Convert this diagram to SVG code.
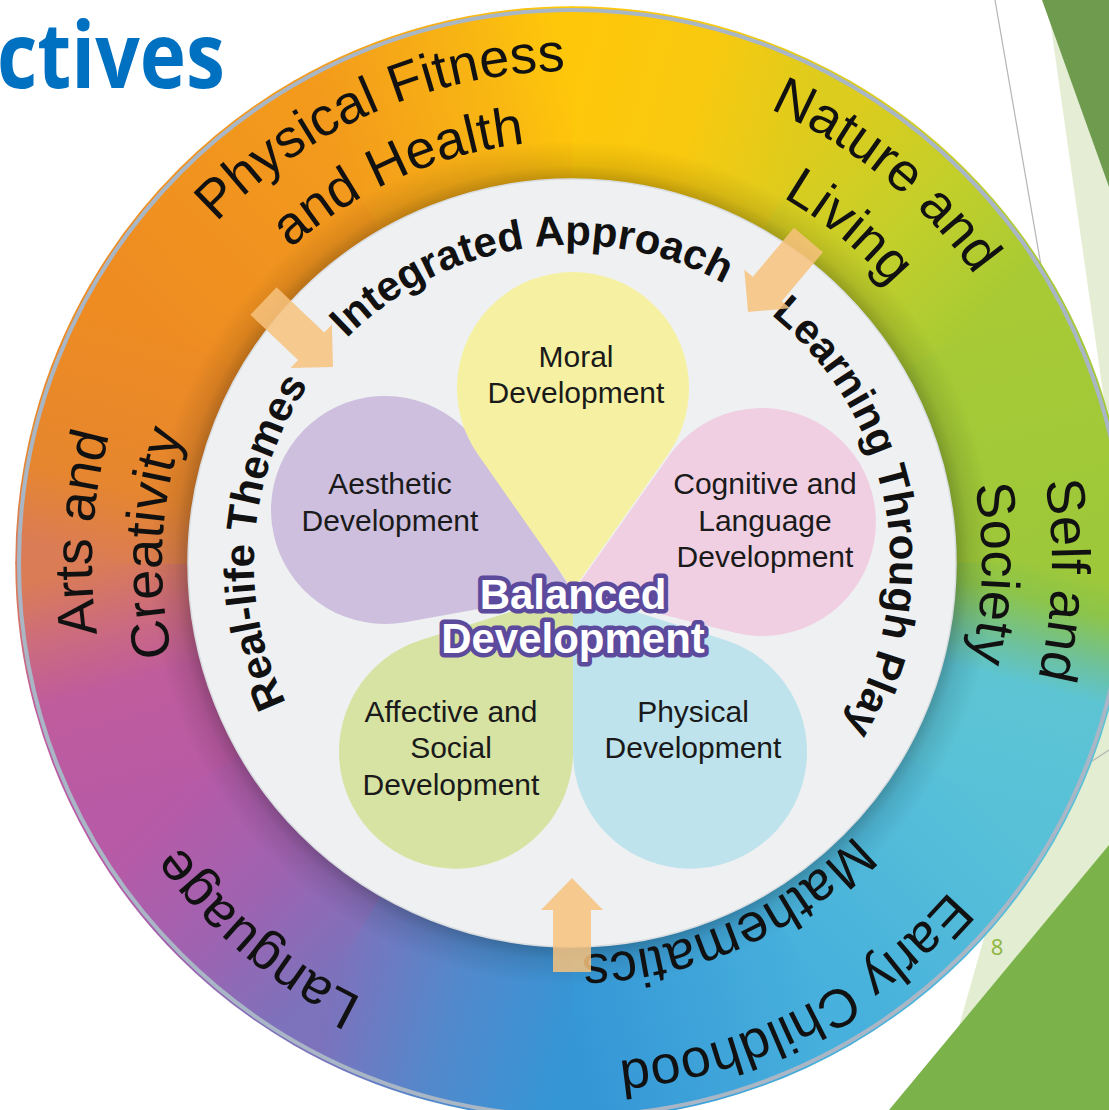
<svg xmlns="http://www.w3.org/2000/svg" width="1109" height="1110" viewBox="0 0 1109 1110">
<style>
.ring{font-family:"Liberation Sans",Arial,sans-serif;font-size:54px;fill:#111}
.band{font-family:"Liberation Sans",Arial,sans-serif;font-size:42px;font-weight:bold;fill:#111}
.petal{font-family:"Liberation Sans",Arial,sans-serif;font-size:30px;fill:#1a1a1a;text-anchor:middle}
.bal{font-family:"Liberation Sans",Arial,sans-serif;font-size:42px;font-weight:bold;fill:#fff;stroke:#5C4A9D;stroke-width:9;stroke-linejoin:round;paint-order:stroke;text-anchor:middle}
.arrow{fill:#F7C27E;opacity:0.85}
</style>
<defs>
<path id="r500" d="M572 1063 A500 500 0 1 1 572 63 A500 500 0 1 1 572 1063"/>
<path id="r495" d="M572 1058 A495 495 0 1 1 572 68 A495 495 0 1 1 572 1058"/>
<path id="r492" d="M572 1055 A492 492 0 1 1 572 71 A492 492 0 1 1 572 1055"/>
<path id="r483" d="M572 1046 A483 483 0 1 1 572 80 A483 483 0 1 1 572 1046"/>
<path id="r480" d="M572 1043 A480 480 0 1 1 572 83 A480 480 0 1 1 572 1043"/>
<path id="r422" d="M572 985 A422 422 0 1 1 572 141 A422 422 0 1 1 572 985"/>
<path id="r410" d="M572 973 A410 410 0 1 1 572 153 A410 410 0 1 1 572 973"/>
<path id="r392" d="M572 955 A392 392 0 1 1 572 171 A392 392 0 1 1 572 955"/>
<path id="r318" d="M572 881 A318 318 0 1 1 572 245 A318 318 0 1 1 572 881"/>
<linearGradient id="g0" gradientUnits="userSpaceOnUse" x1="572" y1="93" x2="807" y2="156"><stop offset="0" stop-color="#FEC70A"/><stop offset="0.5" stop-color="#F8C90F"/><stop offset="1" stop-color="#DCCC1E"/></linearGradient>
<linearGradient id="g1" gradientUnits="userSpaceOnUse" x1="807" y1="156" x2="979" y2="328"><stop offset="0" stop-color="#DCCC1E"/><stop offset="0.5" stop-color="#C2CF2A"/><stop offset="1" stop-color="#A7CA35"/></linearGradient>
<linearGradient id="g2" gradientUnits="userSpaceOnUse" x1="979" y1="328" x2="1042" y2="563"><stop offset="0" stop-color="#A7CA35"/><stop offset="1" stop-color="#9DC83A"/></linearGradient>
<linearGradient id="g3" gradientUnits="userSpaceOnUse" x1="1042" y1="563" x2="979" y2="798"><stop offset="0" stop-color="#9DC83A"/><stop offset="0.15" stop-color="#8CC44A"/><stop offset="0.36" stop-color="#6CC1A0"/><stop offset="0.5" stop-color="#5CC4D3"/><stop offset="1" stop-color="#58C1D8"/></linearGradient>
<linearGradient id="g4" gradientUnits="userSpaceOnUse" x1="979" y1="798" x2="807" y2="970"><stop offset="0" stop-color="#58C1D8"/><stop offset="1" stop-color="#47B0DC"/></linearGradient>
<linearGradient id="g5" gradientUnits="userSpaceOnUse" x1="807" y1="970" x2="572" y2="1033"><stop offset="0" stop-color="#47B0DC"/><stop offset="1" stop-color="#3596D6"/></linearGradient>
<linearGradient id="g6" gradientUnits="userSpaceOnUse" x1="572" y1="1033" x2="337" y2="970"><stop offset="0" stop-color="#3596D6"/><stop offset="0.5" stop-color="#5289CC"/><stop offset="1" stop-color="#7D72BC"/></linearGradient>
<linearGradient id="g7" gradientUnits="userSpaceOnUse" x1="337" y1="970" x2="165" y2="798"><stop offset="0" stop-color="#7D72BC"/><stop offset="0.5" stop-color="#A162B0"/><stop offset="1" stop-color="#B85AA6"/></linearGradient>
<linearGradient id="g8" gradientUnits="userSpaceOnUse" x1="165" y1="798" x2="102" y2="563"><stop offset="0" stop-color="#B85AA6"/><stop offset="0.5" stop-color="#BF5C9C"/><stop offset="0.73" stop-color="#CB6A80"/><stop offset="1" stop-color="#DA7C56"/></linearGradient>
<linearGradient id="g9" gradientUnits="userSpaceOnUse" x1="102" y1="563" x2="165" y2="328"><stop offset="0" stop-color="#DA7C56"/><stop offset="0.33" stop-color="#E6862E"/><stop offset="1" stop-color="#EE8C22"/></linearGradient>
<linearGradient id="g10" gradientUnits="userSpaceOnUse" x1="165" y1="328" x2="337" y2="156"><stop offset="0" stop-color="#EE8C22"/><stop offset="1" stop-color="#F39A1C"/></linearGradient>
<linearGradient id="g11" gradientUnits="userSpaceOnUse" x1="337" y1="156" x2="572" y2="93"><stop offset="0" stop-color="#F39A1C"/><stop offset="0.7" stop-color="#F9B812"/><stop offset="1" stop-color="#FEC70A"/></linearGradient>
<radialGradient id="shade" gradientUnits="userSpaceOnUse" cx="572" cy="563" r="556">
<stop offset="0.68" stop-color="#000" stop-opacity="0.3"/>
<stop offset="0.715" stop-color="#000" stop-opacity="0.1"/>
<stop offset="0.76" stop-color="#000" stop-opacity="0"/>
<stop offset="1" stop-color="#000" stop-opacity="0"/>
</radialGradient>
</defs>

<rect width="1109" height="1110" fill="#fff"/>

<g id="slide-decor">
<polygon points="1050,20 1109,187 1109,435" fill="#E5EED5"/>
<polygon points="1042,0 1109,0 1109,187" fill="#6E9B4D"/>
<line x1="995" y1="0" x2="1047" y2="300" stroke="#B5B5B5" stroke-width="1.2"/>
<polygon points="1109,500 1109,1110 935,1110" fill="#E3EDD2"/>
<line x1="1020" y1="808" x2="1109" y2="750" stroke="#B5B5B5" stroke-width="1.2"/>
<polygon points="1109,845 1109,1110 889,1110" fill="#7BB34A"/>
<text x="-3" y="88" font-family="'Open Sans','Noto Sans',sans-serif" font-weight="700" font-size="92" fill="#0070C0" textLength="228" lengthAdjust="spacingAndGlyphs">ctives</text>
<text x="997" y="955" font-family="'Open Sans','Noto Sans',sans-serif" font-size="22" fill="#8DB43E" text-anchor="middle">8</text>
</g>

<g id="ring">
<path d="M572 563 L572 7 A556 556 0 0 1 850 81.5 Z" fill="url(#g0)" stroke="url(#g0)" stroke-width="1.5"/>
<path d="M572 563 L850 81.5 A556 556 0 0 1 1053.5 285 Z" fill="url(#g1)" stroke="url(#g1)" stroke-width="1.5"/>
<path d="M572 563 L1053.5 285 A556 556 0 0 1 1128 563 Z" fill="url(#g2)" stroke="url(#g2)" stroke-width="1.5"/>
<path d="M572 563 L1128 563 A556 556 0 0 1 1053.5 841 Z" fill="url(#g3)" stroke="url(#g3)" stroke-width="1.5"/>
<path d="M572 563 L1053.5 841 A556 556 0 0 1 850 1044.5 Z" fill="url(#g4)" stroke="url(#g4)" stroke-width="1.5"/>
<path d="M572 563 L850 1044.5 A556 556 0 0 1 572 1119 Z" fill="url(#g5)" stroke="url(#g5)" stroke-width="1.5"/>
<path d="M572 563 L572 1119 A556 556 0 0 1 294 1044.5 Z" fill="url(#g6)" stroke="url(#g6)" stroke-width="1.5"/>
<path d="M572 563 L294 1044.5 A556 556 0 0 1 90.5 841 Z" fill="url(#g7)" stroke="url(#g7)" stroke-width="1.5"/>
<path d="M572 563 L90.5 841 A556 556 0 0 1 16 563 Z" fill="url(#g8)" stroke="url(#g8)" stroke-width="1.5"/>
<path d="M572 563 L16 563 A556 556 0 0 1 90.5 285 Z" fill="url(#g9)" stroke="url(#g9)" stroke-width="1.5"/>
<path d="M572 563 L90.5 285 A556 556 0 0 1 294 81.5 Z" fill="url(#g10)" stroke="url(#g10)" stroke-width="1.5"/>
<path d="M572 563 L294 81.5 A556 556 0 0 1 572 7 Z" fill="url(#g11)" stroke="url(#g11)" stroke-width="1.5"/>
<circle cx="572" cy="563" r="556" fill="url(#shade)"/>
<circle cx="572" cy="563" r="553" fill="none" stroke="#A9B6C6" stroke-width="4"/>
</g>

<g id="inner-circle">
<circle cx="572" cy="563" r="384" fill="#EEF0F2" stroke="#D9DDE0" stroke-width="1.5"/>
</g>

<g id="ring-labels">
<text class="ring"><textPath href="#r492" startOffset="43.47%" text-anchor="middle">Physical Fitness</textPath></text>
<text class="ring"><textPath href="#r422" startOffset="43.3%" text-anchor="middle">and Health</textPath></text>
<text class="ring"><textPath href="#r495" startOffset="60.83%" text-anchor="middle">Nature and</textPath></text>
<text class="ring"><textPath href="#r422" startOffset="60.97%" text-anchor="middle">Living</textPath></text>
<text class="ring"><textPath href="#r480" startOffset="75.56%" text-anchor="middle">Self and</textPath></text>
<text class="ring"><textPath href="#r410" startOffset="75.39%" text-anchor="middle">Society</textPath></text>
<text class="ring"><textPath href="#r500" startOffset="92.45%" text-anchor="middle">Early Childhood</textPath></text>
<text class="ring"><textPath href="#r392" startOffset="93.39%" text-anchor="middle">Mathematics</textPath></text>
<text class="ring"><textPath href="#r483" startOffset="11.11%" text-anchor="middle">Language</textPath></text>
<text class="ring"><textPath href="#r480" startOffset="25.97%" text-anchor="middle">Arts and</textPath></text>
<text class="ring"><textPath href="#r410" startOffset="25.75%" text-anchor="middle">Creativity</textPath></text>
</g>

<g id="approach-labels">
<text class="band"><textPath href="#r318" startOffset="47.71%" text-anchor="middle">Integrated Approach</textPath></text>
<text class="band"><textPath href="#r318" startOffset="72.2%" text-anchor="middle">Learning Through Play</textPath></text>
<text class="band"><textPath href="#r318" startOffset="26.11%" text-anchor="middle">Real-life Themes</textPath></text>
</g>

<g id="petals">
<g id="petal-affective">
<path d="M573 592 L573 754 A117 117 0 1 1 421 640 Z" fill="#D6E3A2"/>
<text class="petal" x="451" y="722">Affective and</text>
<text class="petal" x="451" y="758">Social</text>
<text class="petal" x="451" y="795">Development</text>
</g>
<g id="petal-physical">
<path d="M573 592 L725 640 A117 117 0 1 1 573 754 Z" fill="#BEE3EC"/>
<text class="petal" x="693" y="722">Physical</text>
<text class="petal" x="693" y="758">Development</text>
</g>
<g id="petal-aesthetic">
<path d="M573 592 L481 448.5 A114 114 0 1 0 405.2 622.2 Z" fill="#CDBFDD"/>
<text class="petal" x="390" y="494">Aesthetic</text>
<text class="petal" x="390" y="531">Development</text>
</g>
<g id="petal-moral">
<path d="M573 590 L478 454.6 A116 116 0 1 1 668 454.6 Z" fill="#F6F1A2"/>
<text class="petal" x="576" y="367">Moral</text>
<text class="petal" x="576" y="403">Development</text>
</g>
<g id="petal-cognitive">
<path d="M573 592 L668.8 456.2 A114 114 0 1 1 734.1 632.6 Z" fill="#F0CFE2"/>
<text class="petal" x="765" y="494">Cognitive and</text>
<text class="petal" x="765" y="531">Language</text>
<text class="petal" x="765" y="567">Development</text>
</g>
</g>

<g id="balanced-development">
<text class="bal" x="573" y="609">Balanced</text>
<text class="bal" x="573" y="653">Development</text>
</g>

<g id="connectors">
<polygon class="arrow" points="276.6,287.2 324.3,332.5 331.9,324.5 333,367 290.5,368.1 298.1,360.1 250.4,314.8"/>
<polygon class="arrow" points="794,227.8 752.8,276.8 744.3,269.7 748,312 790.3,308.3 781.8,301.2 823,252.2"/>
<polygon class="arrow" points="553,972 553,910 541,910 572,878 603,910 591,910 591,972"/>
</g>
</svg>
